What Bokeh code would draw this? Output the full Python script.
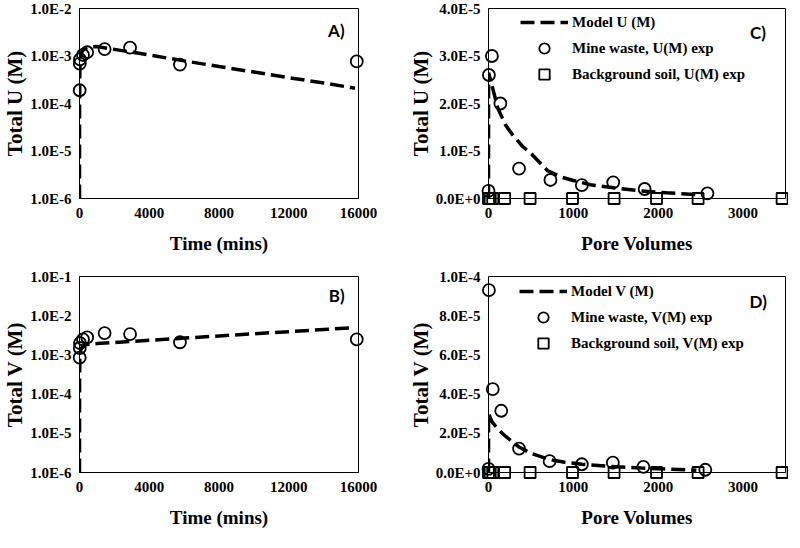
from bokeh.plotting import figure
from bokeh.layouts import gridplot
from bokeh.models import (Range1d, SingleIntervalTicker, FixedTicker, CustomJSTickFormatter,
                          Label, Legend, LegendItem)
from bokeh.embed import file_html
from bokeh.resources import INLINE

# ---------------- data ----------------
# Panel A: Total U vs time (log)
a_model_t = [0, 5, 20, 60, 150, 300, 600, 1000, 2000, 4000, 6000, 8000, 10000, 12000, 14000, 15800]
a_model_u = [1e-6, 1.2e-4, 5e-4, 9e-4, 1.25e-3, 1.45e-3, 1.57e-3, 1.58e-3, 1.38e-3, 1.05e-3,
             7.9e-4, 6.0e-4, 4.6e-4, 3.5e-4, 2.7e-4, 2.1e-4]
a_exp_t = [10, 15, 30, 200, 440, 1440, 2900, 5760, 15900]
a_exp_u = [1.9e-4, 6.9e-4, 8.5e-4, 1.05e-3, 1.2e-3, 1.4e-3, 1.5e-3, 6.6e-4, 7.7e-4]

# Panel B: Total V vs time (log)
b_model_t = [0, 5, 20, 60, 150, 300, 660, 1000, 2000, 4000, 6000, 8000, 10000, 12000, 14000, 15600]
b_model_v = [1e-6, 2e-4, 8e-4, 1.3e-3, 1.6e-3, 1.8e-3, 1.9e-3, 1.95e-3, 2.07e-3, 2.36e-3,
             2.68e-3, 3.04e-3, 3.45e-3, 3.92e-3, 4.45e-3, 4.9e-3]
b_exp_t = [10, 15, 30, 200, 440, 1440, 2900, 5760, 15900]
b_exp_v = [8.5e-4, 1.5e-3, 2.0e-3, 2.5e-3, 2.8e-3, 3.6e-3, 3.4e-3, 2.1e-3, 2.5e-3]

# Panel C: Total U vs pore volumes
c_model_pv = [0, 1, 30, 60, 110, 200, 280, 400, 510, 700, 860, 1000, 1200, 1500, 1800, 2100, 2480]
c_model_u = [0, 2.65e-5, 2.45e-5, 2.25e-5, 1.9e-5, 1.55e-5, 1.35e-5, 1.1e-5, 9.3e-6, 5.8e-6,
             4.5e-6, 3.8e-6, 2.9e-6, 2.2e-6, 1.6e-6, 1.2e-6, 8e-7]
c_mine_pv = [0, 5, 40, 140, 360, 730, 1100, 1470, 1840, 2580]
c_mine_u = [1.6e-6, 2.6e-5, 3.0e-5, 2.0e-5, 6.3e-6, 3.9e-6, 2.8e-6, 3.4e-6, 2.0e-6, 1.1e-6]
c_soil_pv = [0, 20, 50, 190, 490, 990, 1480, 1980, 2470, 3460]
c_soil_u = [0, 0, 0, 0, 0, 0, 0, 0, 0, 0]

# Panel D: Total V vs pore volumes
d_model_pv = [0, 1, 40, 115, 200, 265, 360, 500, 720, 900, 1100, 1400, 1800, 2100, 2450]
d_model_v = [0, 3.0e-5, 2.6e-5, 2.19e-5, 1.85e-5, 1.63e-5, 1.3e-5, 9.8e-6, 6.6e-6, 5.2e-6,
             4.2e-6, 3.2e-6, 2.3e-6, 1.7e-6, 1.2e-6]
d_mine_pv = [0, 5, 50, 150, 360, 720, 1100, 1465, 1825, 2555]
d_mine_v = [1.8e-6, 9.3e-5, 4.25e-5, 3.15e-5, 1.22e-5, 5.8e-6, 4.2e-6, 5.0e-6, 2.9e-6, 1.4e-6]
d_soil_pv = [0, 20, 50, 190, 490, 990, 1480, 1980, 2470, 3460]
d_soil_v = [0, 0, 0, 0, 0, 0, 0, 0, 0, 0]

SERIF = "Liberation Serif"
DASH = "14 6"
fmt = CustomJSTickFormatter(code="return tick.toExponential(1).replace('e', 'E');")


def make_fig(xr, yr, ylog, mbl, fw, mbr, mbt, fh, mbb, xlab, ylab, xint, yticker):
    p = figure(frame_width=fw, frame_height=fh, min_border_left=mbl, min_border_right=mbr,
               min_border_top=mbt, min_border_bottom=mbb, x_range=Range1d(*xr),
               y_range=Range1d(*yr), y_axis_type="log" if ylog else "linear",
               output_backend="svg", toolbar_location=None)
    p.grid.visible = False
    p.outline_line_color = "black"
    p.outline_line_alpha = 1
    p.outline_line_width = 1
    p.background_fill_color = "white"
    p.border_fill_color = "white"
    p.xaxis.ticker = SingleIntervalTicker(interval=xint)
    p.yaxis.ticker = yticker
    p.yaxis.formatter = fmt
    for ax in p.axis:
        ax.major_tick_line_color = None
        ax.minor_tick_line_color = None
        ax.major_tick_out = 0
        ax.major_tick_in = 0
        ax.minor_tick_out = 0
        ax.axis_line_color = "black"
        ax.axis_line_width = 1
        ax.major_label_text_font = SERIF
        ax.major_label_text_font_style = "bold"
        ax.major_label_text_font_size = "15px"
        ax.major_label_text_color = "black"
        ax.axis_label_text_font = SERIF
        ax.axis_label_text_font_style = "bold"
        ax.axis_label_text_color = "black"
    p.xaxis.axis_label = xlab
    p.yaxis.axis_label = ylab
    p.xaxis.axis_label_text_font_size = "19px"
    p.yaxis.axis_label_text_font_size = "21px"
    p.xaxis.major_label_standoff = 9
    p.xaxis.axis_label_standoff = 12
    p.yaxis.major_label_standoff = 8
    p.yaxis.axis_label_standoff = 0
    return p


def panel_label(p, x, y, txt):
    p.add_layout(Label(x=x, y=y, text=txt, text_align="right", text_baseline="middle",
                       text_font="Lato", text_font_style="bold", text_font_size="17px",
                       text_color="black"))


def add_legend(p, renderers, labels, loc):
    items = [LegendItem(label=l, renderers=[r]) for l, r in zip(labels, renderers)]
    lg = Legend(items=items, location=loc, glyph_width=48, glyph_height=26, label_height=25,
                spacing=-1, padding=0, margin=0, label_standoff=4, border_line_color=None,
                background_fill_alpha=0, label_text_font=SERIF, label_text_font_style="bold",
                label_text_font_size="15px", label_text_color="black")
    p.add_layout(lg)


def markers(p, x, y, marker, size):
    return p.scatter(x, y, marker=marker, size=size, fill_alpha=0, line_color="black",
                     line_width=1.8, level="overlay")


log_ticks_a = FixedTicker(ticks=[1e-6, 1e-5, 1e-4, 1e-3, 1e-2])
log_ticks_b = FixedTicker(ticks=[1e-6, 1e-5, 1e-4, 1e-3, 1e-2, 1e-1])

# Panel A
pa = make_fig((0, 16000), (1e-6, 1e-2), True, 75, 279, 38, 8, 190, 66,
              "Time (mins)", "Total U (M)", 4000, log_ticks_a)
pa.line(a_model_t, a_model_u, line_color="black", line_width=3.5, line_dash=DASH)
markers(pa, a_exp_t, a_exp_u, "circle", 12)
panel_label(pa, 15200, 3.4e-3, "A)")

# Panel B
pb = make_fig((0, 16000), (1e-6, 1e-1), True, 75, 279, 38, 12, 196, 60,
              "Time (mins)", "Total V (M)", 4000, log_ticks_b)
pb.line(b_model_t, b_model_v, line_color="black", line_width=3.5, line_dash=DASH)
markers(pb, b_exp_t, b_exp_v, "circle", 12)
panel_label(pb, 15200, 3.2e-2, "B)")

# Panel C
pc = make_fig((0, 3500), (0, 4e-5), False, 92, 297, 3, 8, 190, 66,
              "Pore Volumes", "Total U (M)", 1000, SingleIntervalTicker(interval=1e-5))
rc1 = pc.line(c_model_pv, c_model_u, line_color="black", line_width=3.5, line_dash=DASH)
rc2 = markers(pc, c_mine_pv, c_mine_u, "circle", 12)
rc3 = markers(pc, c_soil_pv, c_soil_u, "square", 11)
add_legend(pc, [rc1, rc2, rc3], ["Model U (M)", "Mine waste, U(M) exp", "Background soil, U(M) exp"], (32, 111))
panel_label(pc, 3270, 3.5e-5, "C)")

# Panel D
pd_ = make_fig((0, 3500), (0, 1e-4), False, 92, 297, 3, 12, 196, 60,
               "Pore Volumes", "Total V (M)", 1000, SingleIntervalTicker(interval=2e-5))
rd1 = pd_.line(d_model_pv, d_model_v, line_color="black", line_width=3.5, line_dash=DASH)
rd2 = markers(pd_, d_mine_pv, d_mine_v, "circle", 12)
rd3 = markers(pd_, d_soil_pv, d_soil_v, "square", 11)
add_legend(pd_, [rd1, rd2, rd3], ["Model V (M)", "Mine waste, V(M) exp", "Background soil, V(M) exp"], (31, 116))
panel_label(pd_, 3280, 8.7e-5, "D)")

grid = gridplot([[pa, pc], [pb, pd_]], toolbar_location=None)

open("out.html", "w").write(file_html(grid, INLINE))
